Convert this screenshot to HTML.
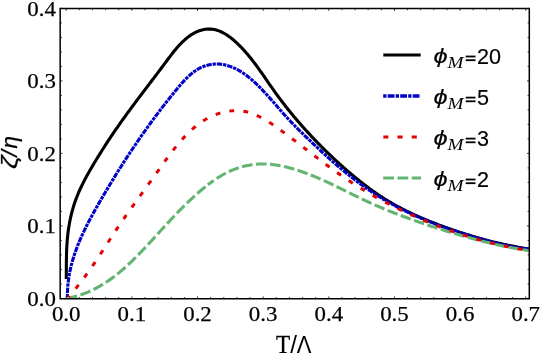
<!DOCTYPE html>
<html><head><meta charset="utf-8"><title>plot</title>
<style>
html,body{margin:0;padding:0;background:#fff;}
body{width:540px;height:353px;overflow:hidden;}
svg{display:block;will-change:transform;opacity:0.999;}
text{font-family:"Liberation Serif",serif;font-size:21.8px;fill:#000;stroke:#000;stroke-width:0.25px;}
.lg{font-family:"Liberation Sans",sans-serif;font-size:20px;stroke:#000;stroke-width:0.15px;}
.ph{font-style:italic;}
.sub{font-family:"Liberation Serif",serif;font-style:italic;font-size:16px;stroke:none;}
.ax{font-family:"Liberation Sans",sans-serif;stroke:none;}
.ax2{font-family:"Liberation Sans",sans-serif;font-style:italic;font-size:22.5px;stroke:#000;stroke-width:0.25px;}
</style></head><body>
<svg width="540" height="353" viewBox="0 0 540 353">
<rect width="540" height="353" fill="#fff"/>
<defs><clipPath id="c"><rect x="60.15" y="8.50" width="469.15" height="290.25"/></clipPath></defs>
<g clip-path="url(#c)" fill="none" stroke-linejoin="round">
<path d="M66.28 279.00L66.29 277.50L66.30 276.00L66.31 274.50L66.32 273.00L66.32 271.50L66.33 270.00L66.34 268.50L66.34 267.00L66.35 265.50L66.36 264.00L66.38 262.50L66.39 261.00L66.41 259.50L66.44 258.00L66.47 256.50L66.50 255.00L66.54 253.50L66.59 252.00L66.65 250.51L66.71 249.01L66.78 247.51L66.85 246.01L66.94 244.52L67.04 243.02L67.15 241.53L67.27 240.03L67.40 238.53L67.54 237.04L67.69 235.55L67.86 234.05L68.04 232.56L68.23 231.07L68.43 229.58L68.65 228.10L68.88 226.61L69.12 225.13L69.38 223.65L69.65 222.18L69.94 220.70L70.23 219.23L70.55 217.77L70.87 216.30L71.22 214.84L71.57 213.39L71.95 211.94L72.33 210.49L72.74 209.05L73.15 207.62L73.59 206.19L74.04 204.76L74.50 203.35L74.99 201.93L75.48 200.53L76.00 199.13L76.53 197.73L77.07 196.34L77.63 194.96L78.20 193.58L78.79 192.21L79.39 190.84L80.00 189.48L80.62 188.12L81.26 186.77L81.90 185.42L82.56 184.08L83.23 182.74L83.91 181.40L84.59 180.07L85.29 178.74L86.00 177.42L86.71 176.10L87.44 174.78L88.17 173.47L88.90 172.16L89.65 170.85L90.40 169.55L91.15 168.25L91.91 166.95L92.68 165.66L93.45 164.36L94.23 163.07L95.01 161.78L95.79 160.49L96.57 159.21L97.36 157.93L98.15 156.64L98.94 155.37L99.74 154.09L100.54 152.81L101.34 151.54L102.14 150.27L102.95 149.00L103.76 147.73L104.57 146.46L105.38 145.20L106.20 143.94L107.02 142.68L107.84 141.42L108.66 140.17L109.49 138.92L110.32 137.67L111.15 136.42L111.98 135.18L112.82 133.93L113.66 132.70L114.50 131.46L115.34 130.22L116.19 128.99L117.04 127.76L117.89 126.54L118.74 125.32L119.60 124.09L120.46 122.88L121.32 121.66L122.18 120.45L123.05 119.23L123.92 118.02L124.79 116.82L125.66 115.61L126.53 114.41L127.41 113.20L128.29 112.00L129.16 110.80L130.05 109.60L130.93 108.41L131.81 107.21L132.70 106.01L133.59 104.82L134.47 103.63L135.36 102.44L136.26 101.24L137.15 100.05L138.04 98.86L138.94 97.67L139.84 96.48L140.73 95.29L141.63 94.10L142.53 92.91L143.43 91.73L144.33 90.54L145.24 89.35L146.14 88.16L147.04 86.97L147.95 85.78L148.85 84.58L149.76 83.39L150.66 82.20L151.57 81.00L152.48 79.81L153.39 78.61L154.29 77.42L155.20 76.22L156.11 75.02L157.02 73.82L157.93 72.61L158.83 71.41L159.74 70.20L160.65 69.00L161.56 67.79L162.47 66.57L163.37 65.36L164.28 64.14L165.19 62.93L166.09 61.71L167.00 60.48L167.91 59.26L168.82 58.04L169.74 56.82L170.66 55.61L171.58 54.40L172.52 53.19L173.46 52.00L174.41 50.81L175.38 49.64L176.35 48.47L177.34 47.32L178.35 46.19L179.37 45.07L180.41 43.97L181.46 42.89L182.54 41.83L183.64 40.79L184.76 39.78L185.90 38.79L187.07 37.82L188.26 36.89L189.47 35.99L190.71 35.14L191.97 34.32L193.25 33.55L194.56 32.84L195.88 32.18L197.23 31.58L198.60 31.04L199.98 30.56L201.37 30.15L202.78 29.80L204.19 29.52L205.61 29.30L207.04 29.15L208.46 29.08L209.88 29.08L211.30 29.15L212.71 29.29L214.11 29.51L215.50 29.81L216.87 30.18L218.24 30.62L219.59 31.13L220.93 31.70L222.25 32.33L223.56 33.01L224.86 33.75L226.14 34.53L227.41 35.36L228.67 36.23L229.91 37.14L231.13 38.08L232.34 39.05L233.53 40.05L234.70 41.07L235.86 42.12L237.00 43.18L238.13 44.25L239.23 45.34L240.32 46.43L241.40 47.53L242.46 48.64L243.50 49.76L244.53 50.89L245.54 52.03L246.54 53.17L247.53 54.33L248.50 55.48L249.46 56.65L250.42 57.82L251.36 59.00L252.29 60.18L253.21 61.37L254.12 62.57L255.03 63.76L255.92 64.97L256.81 66.17L257.69 67.38L258.57 68.60L259.44 69.82L260.30 71.03L261.17 72.26L262.02 73.48L262.88 74.71L263.73 75.93L264.58 77.16L265.42 78.39L266.27 79.62L267.12 80.85L267.96 82.07L268.81 83.30L269.66 84.53L270.51 85.75L271.36 86.98L272.22 88.20L273.08 89.42L273.94 90.63L274.81 91.85L275.68 93.06L276.55 94.27L277.44 95.47L278.32 96.67L279.21 97.87L280.11 99.07L281.00 100.26L281.91 101.45L282.81 102.64L283.73 103.82L284.64 105.00L285.56 106.18L286.49 107.35L287.42 108.53L288.35 109.69L289.29 110.86L290.23 112.02L291.17 113.18L292.12 114.34L293.07 115.49L294.03 116.64L294.99 117.79L295.96 118.93L296.93 120.08L297.90 121.21L298.88 122.35L299.86 123.48L300.85 124.61L301.84 125.74L302.83 126.86L303.83 127.98L304.83 129.09L305.83 130.21L306.84 131.32L307.85 132.42L308.87 133.53L309.89 134.63L310.91 135.72L311.94 136.82L312.97 137.91L314.00 139.00L315.04 140.08L316.08 141.16L317.13 142.24L318.18 143.31L319.23 144.39L320.28 145.45L321.34 146.52L322.41 147.58L323.47 148.64L324.54 149.69L325.61 150.75L326.69 151.80L327.77 152.84L328.85 153.88L329.94 154.92L331.03 155.96L332.12 156.99L333.21 158.02L334.31 159.04L335.42 160.06L336.52 161.08L337.63 162.10L338.74 163.11L339.86 164.12L340.97 165.13L342.09 166.13L343.22 167.13L344.34 168.12L345.47 169.11L346.61 170.10L347.74 171.09L348.88 172.07L350.02 173.04L351.17 174.01L352.32 174.98L353.47 175.95L354.63 176.91L355.79 177.86L356.95 178.81L358.12 179.75L359.29 180.69L360.46 181.63L361.64 182.56L362.82 183.48L364.01 184.40L365.20 185.31L366.39 186.22L367.59 187.11L368.79 188.01L370.00 188.90L371.21 189.78L372.43 190.65L373.65 191.52L374.87 192.38L376.10 193.23L377.33 194.08L378.57 194.92L379.81 195.75L381.06 196.57L382.32 197.39L383.57 198.19L384.84 198.99L386.10 199.79L387.38 200.57L388.66 201.34L389.94 202.11L391.23 202.87L392.52 203.62L393.82 204.36L395.12 205.09L396.43 205.81L397.75 206.53L399.07 207.24L400.39 207.94L401.72 208.63L403.05 209.32L404.38 209.99L405.72 210.66L407.07 211.33L408.41 211.98L409.76 212.63L411.12 213.27L412.48 213.91L413.84 214.54L415.21 215.16L416.57 215.77L417.95 216.38L419.32 216.99L420.70 217.59L422.08 218.18L423.46 218.77L424.85 219.35L426.24 219.92L427.63 220.49L429.02 221.06L430.41 221.62L431.81 222.17L433.21 222.72L434.61 223.27L436.01 223.81L437.42 224.35L438.82 224.88L440.23 225.41L441.64 225.93L443.04 226.45L444.45 226.97L445.87 227.48L447.28 227.99L448.69 228.49L450.11 228.99L451.53 229.49L452.94 229.98L454.36 230.47L455.78 230.95L457.21 231.43L458.63 231.90L460.05 232.37L461.48 232.84L462.91 233.30L464.33 233.75L465.76 234.21L467.20 234.65L468.63 235.09L470.06 235.53L471.50 235.97L472.93 236.39L474.37 236.82L475.81 237.24L477.25 237.65L478.69 238.06L480.13 238.46L481.58 238.86L483.02 239.26L484.47 239.65L485.92 240.03L487.37 240.41L488.82 240.79L490.27 241.16L491.72 241.52L493.18 241.88L494.63 242.23L496.09 242.58L497.55 242.93L499.01 243.27L500.47 243.60L501.93 243.93L503.40 244.25L504.86 244.57L506.33 244.88L507.80 245.19L509.27 245.49L510.74 245.78L512.21 246.07L513.68 246.36L515.16 246.64L516.64 246.91L518.11 247.18L519.59 247.44L521.07 247.70L522.55 247.95L524.04 248.19L525.52 248.43L527.01 248.67L528.50 248.89L529.02 248.97" stroke="#000" stroke-width="3.1"/>
<path d="M67.42 297.20L67.40 295.64L67.41 294.09L67.45 292.55L67.50 291.02L67.57 289.49L67.66 287.96L67.77 286.44L67.90 284.92L68.05 283.42L68.22 281.91L68.40 280.41L68.61 278.92L68.83 277.43L69.07 275.94L69.32 274.46L69.59 272.99L69.88 271.52L70.19 270.05L70.51 268.59L70.85 267.14L71.20 265.68L71.57 264.24L71.96 262.80L72.35 261.36L72.76 259.92L73.19 258.49L73.63 257.07L74.08 255.65L74.55 254.23L75.03 252.82L75.52 251.41L76.03 250.00L76.54 248.60L77.07 247.20L77.61 245.81L78.16 244.42L78.72 243.03L79.29 241.65L79.87 240.27L80.46 238.89L81.06 237.52L81.68 236.15L82.29 234.78L82.92 233.42L83.56 232.06L84.21 230.70L84.86 229.35L85.52 228.00L86.19 226.65L86.86 225.31L87.54 223.96L88.23 222.62L88.93 221.29L89.63 219.95L90.33 218.62L91.05 217.29L91.76 215.97L92.48 214.64L93.21 213.32L93.94 212.00L94.67 210.68L95.41 209.37L96.15 208.06L96.89 206.75L97.64 205.44L98.39 204.13L99.14 202.83L99.89 201.52L100.64 200.22L101.40 198.92L102.16 197.63L102.91 196.33L103.67 195.03L104.43 193.74L105.20 192.45L105.96 191.16L106.72 189.87L107.49 188.59L108.26 187.30L109.03 186.02L109.80 184.74L110.57 183.46L111.34 182.18L112.12 180.91L112.90 179.63L113.68 178.36L114.46 177.09L115.24 175.82L116.03 174.55L116.81 173.28L117.60 172.02L118.39 170.75L119.18 169.49L119.97 168.23L120.77 166.97L121.57 165.71L122.37 164.46L123.17 163.20L123.97 161.95L124.78 160.70L125.59 159.45L126.40 158.20L127.21 156.95L128.02 155.70L128.84 154.46L129.66 153.21L130.48 151.97L131.30 150.73L132.13 149.49L132.96 148.25L133.79 147.01L134.62 145.78L135.46 144.54L136.29 143.31L137.13 142.08L137.98 140.85L138.82 139.62L139.67 138.39L140.52 137.16L141.37 135.94L142.23 134.71L143.09 133.49L143.95 132.27L144.81 131.04L145.68 129.82L146.55 128.61L147.42 127.39L148.30 126.17L149.18 124.96L150.06 123.74L150.94 122.53L151.83 121.32L152.72 120.11L153.61 118.90L154.51 117.69L155.41 116.48L156.31 115.27L157.21 114.07L158.12 112.86L159.03 111.66L159.95 110.46L160.87 109.25L161.79 108.05L162.71 106.85L163.64 105.65L164.57 104.46L165.51 103.26L166.44 102.06L167.39 100.87L168.33 99.67L169.28 98.48L170.23 97.29L171.19 96.10L172.15 94.91L173.11 93.72L174.08 92.53L175.05 91.34L176.02 90.15L177.00 88.96L177.98 87.78L178.97 86.60L179.96 85.43L180.96 84.26L181.97 83.11L182.99 81.97L184.02 80.84L185.06 79.74L186.11 78.65L187.18 77.58L188.26 76.54L189.35 75.53L190.47 74.55L191.60 73.59L192.74 72.67L193.91 71.79L195.10 70.95L196.31 70.14L197.55 69.38L198.80 68.66L200.08 67.99L201.39 67.37L202.72 66.79L204.08 66.27L205.45 65.80L206.84 65.39L208.25 65.02L209.67 64.71L211.10 64.46L212.54 64.26L213.99 64.12L215.45 64.03L216.91 64.01L218.38 64.04L219.84 64.13L221.30 64.29L222.76 64.50L224.22 64.77L225.67 65.09L227.11 65.46L228.55 65.89L229.98 66.36L231.39 66.88L232.80 67.45L234.19 68.05L235.57 68.70L236.93 69.39L238.27 70.11L239.60 70.86L240.91 71.65L242.20 72.47L243.47 73.32L244.73 74.19L245.96 75.09L247.18 76.01L248.38 76.95L249.57 77.91L250.74 78.89L251.90 79.88L253.04 80.89L254.17 81.91L255.28 82.94L256.38 83.97L257.47 85.02L258.55 86.07L259.62 87.14L260.68 88.21L261.72 89.28L262.76 90.37L263.79 91.46L264.82 92.55L265.83 93.66L266.84 94.76L267.84 95.87L268.84 96.98L269.84 98.10L270.82 99.22L271.81 100.34L272.79 101.47L273.77 102.59L274.75 103.72L275.73 104.84L276.70 105.97L277.68 107.10L278.66 108.22L279.63 109.35L280.61 110.47L281.60 111.59L282.58 112.70L283.57 113.82L284.57 114.93L285.57 116.03L286.57 117.13L287.58 118.23L288.59 119.32L289.61 120.41L290.64 121.49L291.67 122.57L292.70 123.65L293.74 124.72L294.79 125.78L295.83 126.85L296.89 127.91L297.94 128.97L299.00 130.02L300.06 131.08L301.13 132.13L302.20 133.17L303.27 134.22L304.35 135.26L305.42 136.30L306.50 137.34L307.59 138.38L308.67 139.42L309.76 140.46L310.84 141.49L311.93 142.52L313.03 143.56L314.12 144.59L315.21 145.62L316.31 146.64L317.41 147.67L318.51 148.70L319.62 149.72L320.72 150.74L321.83 151.76L322.94 152.78L324.05 153.79L325.17 154.80L326.28 155.81L327.40 156.82L328.53 157.83L329.65 158.83L330.78 159.83L331.91 160.82L333.04 161.82L334.17 162.81L335.31 163.79L336.45 164.78L337.59 165.75L338.74 166.73L339.89 167.70L341.04 168.67L342.19 169.64L343.35 170.60L344.51 171.55L345.68 172.50L346.84 173.45L348.01 174.40L349.19 175.33L350.36 176.27L351.54 177.20L352.73 178.12L353.91 179.04L355.10 179.95L356.30 180.86L357.50 181.77L358.70 182.66L359.90 183.56L361.11 184.44L362.32 185.32L363.54 186.20L364.76 187.07L365.98 187.93L367.21 188.79L368.44 189.64L369.68 190.48L370.92 191.32L372.16 192.15L373.41 192.98L374.66 193.80L375.92 194.61L377.18 195.41L378.44 196.21L379.71 197.00L380.98 197.78L382.26 198.55L383.54 199.32L384.83 200.08L386.12 200.83L387.42 201.58L388.72 202.32L390.02 203.05L391.33 203.78L392.64 204.49L393.95 205.21L395.27 205.91L396.59 206.61L397.92 207.30L399.25 207.99L400.58 208.67L401.92 209.34L403.26 210.00L404.60 210.66L405.95 211.32L407.30 211.97L408.65 212.61L410.01 213.24L411.37 213.87L412.73 214.50L414.09 215.12L415.46 215.73L416.83 216.34L418.21 216.94L419.58 217.53L420.96 218.12L422.34 218.71L423.73 219.29L425.11 219.86L426.50 220.43L427.89 221.00L429.29 221.56L430.68 222.11L432.08 222.66L433.48 223.20L434.88 223.74L436.28 224.28L437.69 224.81L439.10 225.34L440.51 225.86L441.92 226.38L443.33 226.89L444.75 227.40L446.16 227.90L447.58 228.40L449.00 228.90L450.42 229.39L451.84 229.88L453.26 230.36L454.68 230.84L456.11 231.32L457.53 231.79L458.96 232.26L460.39 232.72L461.82 233.19L463.25 233.64L464.68 234.10L466.11 234.55L467.54 235.00L468.97 235.44L470.41 235.88L471.84 236.32L473.28 236.75L474.71 237.18L476.15 237.60L477.59 238.02L479.03 238.44L480.47 238.85L481.91 239.25L483.35 239.65L484.80 240.05L486.24 240.44L487.69 240.82L489.14 241.20L490.59 241.58L492.04 241.95L493.49 242.31L494.95 242.67L496.40 243.03L497.86 243.37L499.32 243.71L500.78 244.05L502.24 244.38L503.70 244.70L505.16 245.02L506.63 245.33L508.10 245.64L509.57 245.93L511.04 246.23L512.51 246.51L513.98 246.79L515.46 247.06L516.94 247.32L518.42 247.58L519.90 247.83L521.38 248.07L522.87 248.31L524.36 248.53L525.85 248.75L527.34 248.97L528.83 249.17L529.03 249.20" stroke="#0000c8" stroke-width="3.1" stroke-dasharray="3.3 0.9 5.4 0.9"/>
<path d="M68.97 297.97L70.50 297.65L72.01 297.31L73.52 296.94L75.01 296.55L76.48 296.14L77.95 295.71L79.40 295.26L80.84 294.79L82.27 294.29L83.68 293.78L85.09 293.25L86.48 292.69L87.86 292.12L89.23 291.53L90.59 290.92L91.93 290.29L93.27 289.65L94.60 288.99L95.91 288.31L97.22 287.61L98.52 286.90L99.80 286.17L101.08 285.42L102.35 284.66L103.60 283.89L104.85 283.10L106.09 282.29L107.32 281.47L108.54 280.64L109.76 279.79L110.96 278.93L112.16 278.06L113.35 277.18L114.53 276.28L115.71 275.37L116.87 274.45L118.03 273.52L119.18 272.58L120.33 271.63L121.47 270.66L122.60 269.69L123.73 268.71L124.84 267.72L125.96 266.72L127.07 265.71L128.17 264.69L129.26 263.67L130.36 262.64L131.44 261.60L132.52 260.55L133.60 259.50L134.67 258.44L135.74 257.38L136.80 256.31L137.86 255.23L138.91 254.15L139.96 253.07L141.01 251.98L142.05 250.89L143.10 249.79L144.13 248.69L145.17 247.59L146.20 246.49L147.23 245.38L148.26 244.27L149.28 243.17L150.30 242.05L151.32 240.94L152.34 239.83L153.36 238.72L154.38 237.61L155.39 236.49L156.41 235.38L157.42 234.27L158.43 233.15L159.44 232.04L160.46 230.93L161.47 229.82L162.48 228.71L163.50 227.60L164.51 226.49L165.53 225.39L166.54 224.28L167.56 223.18L168.58 222.08L169.60 220.98L170.62 219.88L171.65 218.78L172.67 217.69L173.70 216.60L174.73 215.51L175.77 214.42L176.81 213.34L177.85 212.26L178.89 211.18L179.94 210.11L180.99 209.04L182.05 207.97L183.11 206.91L184.18 205.85L185.25 204.79L186.32 203.74L187.40 202.69L188.49 201.65L189.58 200.61L190.67 199.57L191.77 198.54L192.88 197.52L194.00 196.50L195.12 195.48L196.24 194.47L197.38 193.47L198.52 192.47L199.67 191.48L200.82 190.49L201.99 189.51L203.16 188.54L204.34 187.58L205.52 186.63L206.71 185.69L207.91 184.76" stroke="#64b572" stroke-width="3.1" stroke-dasharray="10.7 3.5" stroke-dashoffset="2.3"/>
<path d="M207.91 184.76L209.12 183.84L210.34 182.94L211.56 182.04L212.80 181.17L214.04 180.30L215.28 179.45L216.54 178.62L217.81 177.81L219.08 177.01L220.36 176.23L221.65 175.47L222.95 174.73L224.26 174.01L225.57 173.31L226.90 172.64L228.23 171.99L229.57 171.36L230.93 170.75L232.29 170.17L233.65 169.61L235.03 169.08L236.42 168.58L237.81 168.10L239.21 167.64L240.62 167.22L242.03 166.81L243.45 166.44L244.88 166.09L246.31 165.76L247.74 165.47L249.18 165.19L250.63 164.95L252.08 164.74L253.53 164.55L254.99 164.38L256.45 164.25L257.91 164.14L259.38 164.07L260.85 164.01L262.31 163.99L263.79 164.00L265.26 164.03L266.73 164.08L268.21 164.17L269.68 164.27L271.16 164.40L272.63 164.56L274.11 164.73L275.59 164.93L277.06 165.16L278.54 165.40L280.01 165.66L281.49 165.94L282.96 166.25L284.43 166.57L285.90 166.91L287.37 167.27L288.84 167.64L290.30 168.03L291.77 168.44L293.23 168.86L294.69 169.29L296.14 169.74L297.59 170.21L299.04 170.68L300.49 171.17L301.93 171.67L303.37 172.18L304.80 172.70L306.23 173.24L307.65 173.78L309.07 174.33L310.49 174.88L311.90 175.45L313.31 176.02L314.71 176.60L316.10 177.19L317.50 177.78L318.88 178.38L320.27 178.98L321.65 179.59L323.03 180.21L324.40 180.83L325.77 181.45L327.14 182.08L328.50 182.72L329.86 183.36L331.22 184.00L332.58 184.64L333.93 185.29L335.29 185.94L336.64 186.59L337.98 187.25L339.33 187.90L340.68 188.56L342.02 189.22L343.36 189.88L344.71 190.55L346.05 191.21L347.39 191.87L348.73 192.53L350.07 193.19L351.41 193.85L352.75 194.52L354.09 195.17L355.43 195.83L356.78 196.49L358.12 197.14L359.46 197.79L360.81 198.44L362.15 199.09L363.50 199.73L364.85 200.37L366.20 201.00L367.55 201.63L368.91 202.26L370.27 202.88L371.63 203.50L372.99 204.11L374.36 204.72L375.72 205.33L377.09 205.92L378.46 206.52L379.84 207.11L381.21 207.69L382.59 208.27L383.97 208.85L385.35 209.42L386.74 209.99L388.13 210.56L389.51 211.12L390.90 211.67L392.30 212.23L393.69 212.78L395.08 213.32L396.48 213.86L397.88 214.40L399.28 214.93L400.68 215.47L402.09 215.99L403.49 216.52L404.90 217.04L406.30 217.56L407.71 218.07L409.12 218.58L410.54 219.09L411.95 219.60L413.36 220.10L414.78 220.60L416.19 221.10L417.61 221.59L419.03 222.09L420.45 222.58L421.87 223.06L423.29 223.55L424.71 224.03L426.13 224.51L427.56 224.99L428.98 225.46L430.41 225.94L431.83 226.41L433.26 226.87L434.69 227.34L436.12 227.80L437.55 228.26L438.98 228.72L440.41 229.17L441.84 229.62L443.27 230.07L444.71 230.52L446.14 230.96L447.58 231.40L449.01 231.84L450.45 232.28L451.89 232.71L453.33 233.14L454.77 233.57L456.21 233.99L457.65 234.41L459.09 234.83L460.53 235.25L461.97 235.66L463.42 236.07L464.86 236.48L466.31 236.88L467.75 237.28L469.20 237.68L470.64 238.08L472.09 238.47L473.54 238.86L474.99 239.25L476.44 239.63L477.89 240.02L479.34 240.39L480.79 240.77L482.24 241.14L483.70 241.51L485.15 241.88L486.60 242.24L488.06 242.60L489.51 242.95L490.97 243.31L492.43 243.65L493.89 244.00L495.35 244.34L496.81 244.67L498.27 245.00L499.73 245.33L501.19 245.65L502.65 245.97L504.12 246.28L505.59 246.59L507.05 246.89L508.52 247.18L509.99 247.47L511.46 247.76L512.94 248.03L514.41 248.31L515.89 248.57L517.36 248.83L518.84 249.08L520.32 249.33L521.80 249.57L523.28 249.80L524.77 250.03L526.26 250.25L527.74 250.46L528.99 250.63" stroke="#64b572" stroke-width="3.1" stroke-dasharray="10.6 3.5" stroke-dashoffset="3.40"/>
<path d="M68.29 297.08L69.27 296.00L70.25 294.91L71.23 293.81L72.19 292.70L73.15 291.59L74.10 290.46L75.05 289.33L75.99 288.19L76.93 287.04L77.85 285.89L78.78 284.72L79.69 283.55L80.61 282.38L81.51 281.19L82.42 280.00L83.31 278.80L84.21 277.60L85.10 276.39L85.98 275.18L86.86 273.96L87.73 272.74L88.61 271.51L89.47 270.28L90.34 269.04L91.20 267.80L92.06 266.56L92.91 265.31L93.76 264.06L94.61 262.81L95.46 261.55L96.30 260.29L97.14 259.03L97.98 257.77L98.82 256.50L99.65 255.23L100.49 253.97L101.32 252.70L102.15 251.43L102.98 250.16L103.80 248.89L104.63 247.61L105.46 246.34L106.28 245.07L107.11 243.80L107.93 242.53L108.76 241.27L109.58 240.00L110.41 238.73L111.23 237.47L112.06 236.21L112.88 234.95L113.71 233.69L114.54 232.44L115.36 231.19L116.19 229.94L117.03 228.70L117.86 227.46L118.69 226.22L119.53 224.99L120.37 223.76L121.20 222.53L122.04 221.31L122.89 220.09L123.73 218.87L124.57 217.65L125.42 216.44L126.27 215.23L127.11 214.02L127.96 212.81L128.82 211.60L129.67 210.40L130.52 209.19L131.38 207.99L132.23 206.79L133.09 205.59L133.95 204.39L134.81 203.19L135.67 201.99L136.53 200.79L137.39 199.60L138.26 198.40L139.12 197.20L139.99 196.00L140.86 194.80L141.72 193.60L142.59 192.40L143.46 191.20L144.34 189.99L145.21 188.79L146.08 187.58L146.96 186.37L147.83 185.16L148.71 183.95L149.58 182.74L150.46 181.52L151.34 180.30L152.22 179.08L153.10 177.86L153.98 176.63L154.86 175.40L155.75 174.17L156.63 172.93L157.51 171.69L158.40 170.45L159.28 169.20L160.17 167.95L161.06 166.70L161.95 165.45L162.85 164.19L163.74 162.94L164.64 161.69L165.54 160.44L166.45 159.19L167.35 157.95L168.27 156.70L169.19 155.46L170.11 154.23L171.03 153.00L171.97 151.77L172.90 150.55L173.85 149.34L174.80 148.14L175.75 146.94L176.71 145.75L177.68 144.57L178.66 143.40L179.64 142.24L180.64 141.09L181.64 139.95L182.65 138.83L183.66 137.72L184.69 136.62L185.73 135.53L186.77 134.46L187.83 133.40L188.89 132.36L189.97 131.34L191.06 130.33L192.15 129.34L193.26 128.37L194.39 127.42L195.52 126.49L196.66 125.57L197.82 124.68L198.99 123.81L200.18 122.96L201.38 122.13L202.59 121.32L203.81 120.54L205.05 119.78L206.31 119.05L207.58 118.34L208.86 117.66L210.17 117.01L211.48 116.38L212.82 115.78L214.16 115.21L215.53 114.66L216.91 114.15L218.31 113.67L219.73 113.21L221.16 112.80L222.61 112.41L224.06 112.06L225.53 111.74L227.00 111.46L228.49 111.22L229.98 111.02L231.47 110.87L232.97 110.75L234.47 110.67L235.97 110.64L237.46 110.66L238.96 110.72L240.45 110.83L241.93 110.99L243.41 111.20L244.88 111.47L246.34 111.78L247.80 112.14L249.24 112.56L250.66 113.01L252.08 113.51L253.49 114.04L254.89 114.61L256.27 115.21L257.64 115.84L259.00 116.49L260.35 117.17L261.68 117.87L263.01 118.59L264.32 119.32L265.63 120.08L266.92 120.86L268.20 121.65L269.48 122.46L270.75 123.28L272.01 124.11L273.26 124.96L274.51 125.81L275.75 126.68L276.99 127.55L278.22 128.43L279.45 129.32L280.67 130.21L281.89 131.11L283.11 132.00L284.33 132.90L285.54 133.81L286.75 134.71L287.96 135.61L289.17 136.52L290.37 137.43L291.58 138.34L292.78 139.24L293.98 140.16L295.18 141.07L296.38 141.98L297.58 142.89L298.78 143.81L299.97 144.72L301.17 145.63L302.36 146.55L303.55 147.46L304.75 148.38L305.94 149.29L307.13 150.20L308.32 151.12L309.51 152.03L310.71 152.94L311.90 153.85L313.09 154.76L314.28 155.67L315.48 156.58L316.67 157.48L317.86 158.39L319.06 159.29L320.25 160.20L321.45 161.10L322.65 161.99L323.84 162.89L325.04 163.78L326.24 164.68L327.45 165.57L328.65 166.45L329.86 167.34L331.06 168.22L332.27 169.10L333.48 169.97L334.70 170.85L335.91 171.72L337.13 172.58L338.35 173.45L339.57 174.30L340.80 175.16L342.02 176.01L343.25 176.86L344.49 177.70L345.72 178.54L346.96 179.38L348.20 180.21L349.45 181.04L350.70 181.86L351.95 182.68L353.21 183.49L354.46 184.30L355.73 185.10L356.99 185.90L358.26 186.69L359.53 187.48L360.81 188.27L362.09 189.05L363.37 189.82L364.65 190.60L365.94 191.36L367.23 192.12L368.53 192.88L369.82 193.63L371.12 194.38L372.42 195.13L373.73 195.87L375.04 196.60L376.35 197.33L377.66 198.06L378.97 198.78L380.29 199.50L381.61 200.21L382.94 200.92L384.26 201.63L385.59 202.33L386.92 203.02L388.26 203.72L389.59 204.40L390.93 205.09L392.27 205.77L393.61 206.44L394.95 207.11L396.30 207.78L397.65 208.44L399.00 209.10L400.35 209.76L401.71 210.41L403.06 211.06L404.42 211.70L405.78 212.34L407.15 212.97L408.51 213.60L409.88 214.23L411.24 214.85L412.61 215.47L413.98 216.08L415.35 216.70L416.73 217.30L418.10 217.91L419.48 218.50L420.86 219.10L422.24 219.69L423.62 220.28L425.01 220.86L426.39 221.44L427.78 222.01L429.17 222.58L430.56 223.15L431.95 223.71L433.34 224.27L434.74 224.82L436.13 225.37L437.53 225.91L438.93 226.45L440.33 226.99L441.74 227.52L443.14 228.04L444.55 228.57L445.95 229.08L447.36 229.60L448.77 230.11L450.18 230.61L451.60 231.11L453.01 231.60L454.43 232.09L455.85 232.58L457.27 233.06L458.69 233.53L460.11 234.01L461.53 234.47L462.96 234.93L464.39 235.39L465.82 235.84L467.25 236.29L468.68 236.73L470.11 237.17L471.54 237.60L472.98 238.03L474.42 238.45L475.86 238.87L477.30 239.28L478.74 239.68L480.18 240.09L481.63 240.48L483.07 240.87L484.52 241.26L485.97 241.64L487.42 242.02L488.87 242.39L490.33 242.75L491.78 243.11L493.24 243.47L494.69 243.82L496.15 244.16L497.61 244.50L499.08 244.83L500.54 245.16L502.00 245.48L503.47 245.80L504.94 246.11L506.41 246.41L507.88 246.71L509.35 247.00L510.82 247.29L512.29 247.58L513.77 247.85L515.25 248.12L516.72 248.39L518.20 248.65L519.69 248.90L521.17 249.15L522.65 249.39L524.14 249.63L525.62 249.86L527.11 250.08L528.60 250.30L529.01 250.36" stroke="#e30000" stroke-width="3.0" stroke-dasharray="4.8 9.3" stroke-dashoffset="2.9"/>
</g>
<rect x="60.15" y="8.50" width="469.15" height="290.25" fill="none" stroke="#000" stroke-width="1.5"/>
<path d="M66.20 298.75 v-2.30M66.20 8.50 v2.30M79.33 298.75 v-1.70M79.33 8.50 v1.70M92.46 298.75 v-1.70M92.46 8.50 v1.70M105.59 298.75 v-1.70M105.59 8.50 v1.70M118.72 298.75 v-1.70M118.72 8.50 v1.70M131.85 298.75 v-2.30M131.85 8.50 v2.30M144.98 298.75 v-1.70M144.98 8.50 v1.70M158.11 298.75 v-1.70M158.11 8.50 v1.70M171.24 298.75 v-1.70M171.24 8.50 v1.70M184.37 298.75 v-1.70M184.37 8.50 v1.70M197.50 298.75 v-2.30M197.50 8.50 v2.30M210.63 298.75 v-1.70M210.63 8.50 v1.70M223.76 298.75 v-1.70M223.76 8.50 v1.70M236.89 298.75 v-1.70M236.89 8.50 v1.70M250.02 298.75 v-1.70M250.02 8.50 v1.70M263.15 298.75 v-2.30M263.15 8.50 v2.30M276.28 298.75 v-1.70M276.28 8.50 v1.70M289.41 298.75 v-1.70M289.41 8.50 v1.70M302.54 298.75 v-1.70M302.54 8.50 v1.70M315.67 298.75 v-1.70M315.67 8.50 v1.70M328.80 298.75 v-2.30M328.80 8.50 v2.30M341.93 298.75 v-1.70M341.93 8.50 v1.70M355.06 298.75 v-1.70M355.06 8.50 v1.70M368.19 298.75 v-1.70M368.19 8.50 v1.70M381.32 298.75 v-1.70M381.32 8.50 v1.70M394.45 298.75 v-2.30M394.45 8.50 v2.30M407.58 298.75 v-1.70M407.58 8.50 v1.70M420.71 298.75 v-1.70M420.71 8.50 v1.70M433.84 298.75 v-1.70M433.84 8.50 v1.70M446.97 298.75 v-1.70M446.97 8.50 v1.70M460.10 298.75 v-2.30M460.10 8.50 v2.30M473.23 298.75 v-1.70M473.23 8.50 v1.70M486.36 298.75 v-1.70M486.36 8.50 v1.70M499.49 298.75 v-1.70M499.49 8.50 v1.70M512.62 298.75 v-1.70M512.62 8.50 v1.70M525.75 298.75 v-2.30M525.75 8.50 v2.30M60.15 298.40 h2.30M529.30 298.40 h-2.30M60.15 283.90 h1.70M529.30 283.90 h-1.70M60.15 269.40 h1.70M529.30 269.40 h-1.70M60.15 254.90 h1.70M529.30 254.90 h-1.70M60.15 240.40 h1.70M529.30 240.40 h-1.70M60.15 225.90 h2.30M529.30 225.90 h-2.30M60.15 211.40 h1.70M529.30 211.40 h-1.70M60.15 196.90 h1.70M529.30 196.90 h-1.70M60.15 182.40 h1.70M529.30 182.40 h-1.70M60.15 167.90 h1.70M529.30 167.90 h-1.70M60.15 153.40 h2.30M529.30 153.40 h-2.30M60.15 138.90 h1.70M529.30 138.90 h-1.70M60.15 124.40 h1.70M529.30 124.40 h-1.70M60.15 109.90 h1.70M529.30 109.90 h-1.70M60.15 95.40 h1.70M529.30 95.40 h-1.70M60.15 80.90 h2.30M529.30 80.90 h-2.30M60.15 66.40 h1.70M529.30 66.40 h-1.70M60.15 51.90 h1.70M529.30 51.90 h-1.70M60.15 37.40 h1.70M529.30 37.40 h-1.70M60.15 22.90 h1.70M529.30 22.90 h-1.70M60.15 8.40 h2.30M529.30 8.40 h-2.30" stroke="#000" stroke-width="0.8" fill="none"/>
<g><text x="66.20" y="320.6" text-anchor="middle" textLength="28.6" lengthAdjust="spacingAndGlyphs">0.0</text><text x="131.85" y="320.6" text-anchor="middle" textLength="28.6" lengthAdjust="spacingAndGlyphs">0.1</text><text x="197.50" y="320.6" text-anchor="middle" textLength="28.6" lengthAdjust="spacingAndGlyphs">0.2</text><text x="263.15" y="320.6" text-anchor="middle" textLength="28.6" lengthAdjust="spacingAndGlyphs">0.3</text><text x="328.80" y="320.6" text-anchor="middle" textLength="28.6" lengthAdjust="spacingAndGlyphs">0.4</text><text x="394.45" y="320.6" text-anchor="middle" textLength="28.6" lengthAdjust="spacingAndGlyphs">0.5</text><text x="460.10" y="320.6" text-anchor="middle" textLength="28.6" lengthAdjust="spacingAndGlyphs">0.6</text><text x="525.75" y="320.6" text-anchor="middle" textLength="28.6" lengthAdjust="spacingAndGlyphs">0.7</text></g>
<g><text x="55.9" y="305.50" text-anchor="end" textLength="28.6" lengthAdjust="spacingAndGlyphs">0.0</text><text x="55.9" y="233.00" text-anchor="end" textLength="28.6" lengthAdjust="spacingAndGlyphs">0.1</text><text x="55.9" y="160.50" text-anchor="end" textLength="28.6" lengthAdjust="spacingAndGlyphs">0.2</text><text x="55.9" y="88.00" text-anchor="end" textLength="28.6" lengthAdjust="spacingAndGlyphs">0.3</text><text x="55.9" y="15.50" text-anchor="end" textLength="28.6" lengthAdjust="spacingAndGlyphs">0.4</text></g>
<text transform="translate(276.1,352.7) scale(1,1.09)" style="font-size:23.2px">T</text><text class="ax" transform="translate(290.2,353.4) scale(1.04,1)" style="font-size:23.3px">/</text><text class="ax" transform="translate(296.7,352.8) scale(1,1.11)" style="font-size:22px">&#923;</text>
<g class="ax" font-style="italic" font-size="22.5" style="stroke:#000;stroke-width:0.25px"><text class="ax2" transform="translate(17,169.0) rotate(-90) scale(1.28,1)">&#950;</text><text class="ax2" transform="translate(17,156.6) rotate(-90)">/</text><text class="ax2" transform="translate(16.8,148.5) rotate(-90)">&#951;</text></g>
<g fill="none">
<path d="M383.3 55H420.7" stroke="#000" stroke-width="3.1"/>
<path d="M383.2 96.0H419.6" stroke="#0000c8" stroke-width="3.3" stroke-dasharray="3.3 1.2 6.8 1.2"/>
<path d="M383.3 137.0H420.5" stroke="#e30000" stroke-width="3.1" stroke-dasharray="5.1 9.1"/>
<path d="M383.2 178.0H421" stroke="#64b572" stroke-width="3.2" stroke-dasharray="10.8 3.5"/>
</g>
<g transform="translate(0,63.7) scale(1,1.1)"><text class="lg ph" transform="translate(433.4,-0.6) scale(1.27,0.96)">&#981;</text><text class="sub" transform="translate(447.6,3.9) scale(1.2,1)">M</text><text class="lg" transform="translate(477.00,0) scale(1.08,1)" font-size="20.5">2</text><text class="lg" transform="translate(489.02,0) scale(1.08,1)" font-size="20.5">0</text></g><rect x="465.7" y="55.60" width="9.8" height="1.8"/><rect x="465.7" y="59.30" width="9.8" height="1.8"/><g transform="translate(0,104.8) scale(1,1.1)"><text class="lg ph" transform="translate(433.4,-0.6) scale(1.27,0.96)">&#981;</text><text class="sub" transform="translate(447.6,3.9) scale(1.2,1)">M</text><text class="lg" transform="translate(477.00,0) scale(1.08,1)" font-size="20.5">5</text></g><rect x="465.7" y="96.70" width="9.8" height="1.8"/><rect x="465.7" y="100.40" width="9.8" height="1.8"/><g transform="translate(0,145.8) scale(1,1.1)"><text class="lg ph" transform="translate(433.4,-0.6) scale(1.27,0.96)">&#981;</text><text class="sub" transform="translate(447.6,3.9) scale(1.2,1)">M</text><text class="lg" transform="translate(477.00,0) scale(1.08,1)" font-size="20.5">3</text></g><rect x="465.7" y="137.70" width="9.8" height="1.8"/><rect x="465.7" y="141.40" width="9.8" height="1.8"/><g transform="translate(0,186.7) scale(1,1.1)"><text class="lg ph" transform="translate(433.4,-0.6) scale(1.27,0.96)">&#981;</text><text class="sub" transform="translate(447.6,3.9) scale(1.2,1)">M</text><text class="lg" transform="translate(477.00,0) scale(1.08,1)" font-size="20.5">2</text></g><rect x="465.7" y="178.60" width="9.8" height="1.8"/><rect x="465.7" y="182.30" width="9.8" height="1.8"/>
</svg>
</body></html>
